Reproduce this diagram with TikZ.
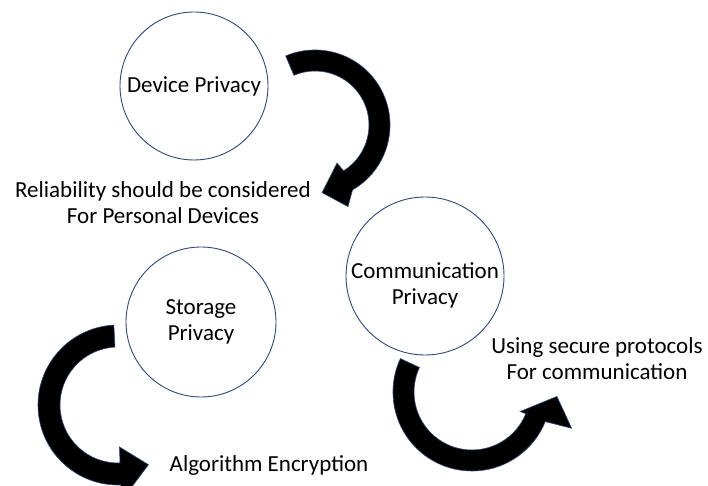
\documentclass[tikz,border=0pt]{standalone}
\usepackage{fontspec}
\setmainfont{Carlito}
\definecolor{rimblue}{RGB}{47,72,120}
\begin{document}
\begin{tikzpicture}[x=1pt,y=1pt,
    privacy/.style={circle, draw=rimblue, line width=0.9pt, inner sep=0pt, align=center, font=\fontsize{23}{26}\selectfont},
    note/.style={align=center, font=\fontsize{23}{26}\selectfont},
    swoop/.style={fill=black, draw=rimblue, line width=0.6pt, line join=miter}]
\useasboundingbox (0,0) rectangle (708,486);
% the three privacy circles
\node[privacy, minimum size=148pt] (device) at (194,400) {Device Privacy};
\node[privacy, minimum size=150pt] (storage) at (201,164) {Storage\\Privacy};
\node[privacy, minimum size=158pt] (comm) at (425,210) {};
\node[note, yshift=-9pt] (commtext) at (comm) {Communication\\Privacy};
% what goes with each one
\node[note] (reliab) at (163,283) {Reliability should be considered\\For Personal Devices};
\node[note] (protocols) at (597,127) {Using secure protocols\\For communication};
\node[note] (encrypt) at (269,21) {Algorithm Encryption};
% curved block arrows, each round its own turning point
\coordinate (devturn) at (315,361);
\coordinate (storeturn) at (118,81);
\coordinate (commturn) at (472,94);
\fill[swoop, shift={(devturn)}] (113:75) arc[start angle=113, end angle=-60, radius=75]
    -- (-68:88) -- (-84:68) -- (-60:44) -- (-58:54) arc[start angle=-58, end angle=113, radius=54] -- cycle;
\fill[swoop, shift={(storeturn)}] (93:80) arc[start angle=93, end angle=272, radius=80]
    -- (272:96) -- (297:67) -- (272:42) -- (272:58) arc[start angle=272, end angle=93, radius=58] -- cycle;
\fill[swoop, shift={(commturn)}] (155:79) arc[start angle=155, end angle=338, radius=79]
    -- (340:106) -- (357:85) -- (338:52) -- (338:58) arc[start angle=338, end angle=155, radius=58] -- cycle;
\end{tikzpicture}
\end{document}
